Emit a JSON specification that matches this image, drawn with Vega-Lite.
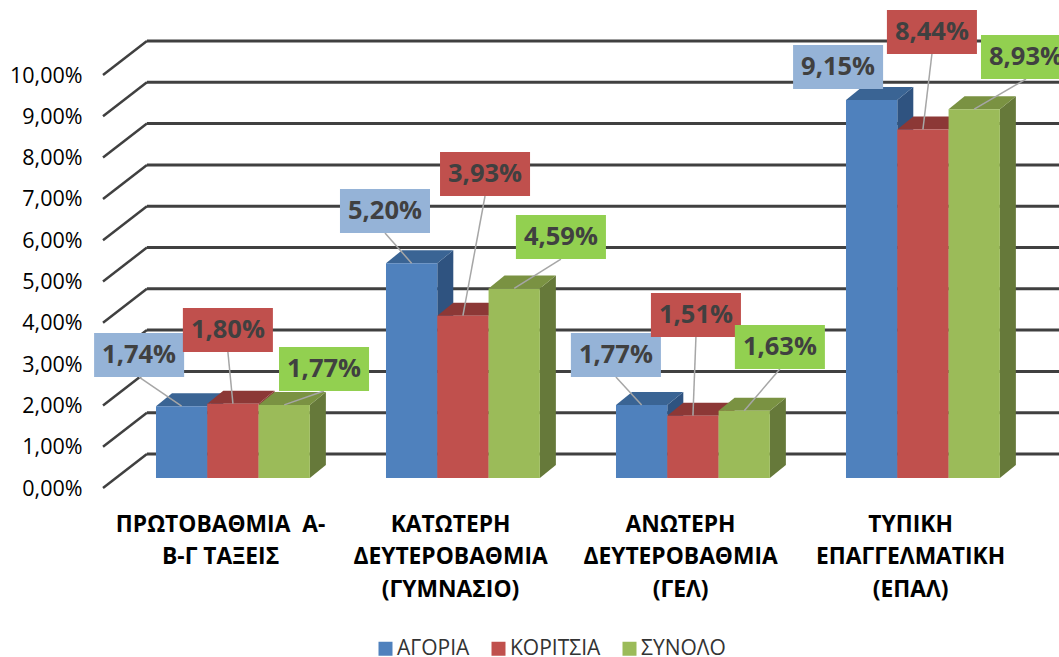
{"$schema":"https://vega.github.io/schema/vega-lite/v6.json","width":956,"height":488,"autosize":{"type":"none"},"padding":{"left":103,"top":0,"right":0,"bottom":169},"background":"white","config":{"view":{"stroke":null},"font":"Open Sans"},
"data":{"values":[
{"category":"ΠΡΩΤΟΒΑΘΜΙΑ Α-Β-Γ ΤΑΞΕΙΣ","series":"ΑΓΟΡΙΑ","value":1.74},{"category":"ΠΡΩΤΟΒΑΘΜΙΑ Α-Β-Γ ΤΑΞΕΙΣ","series":"ΚΟΡΙΤΣΙΑ","value":1.80},{"category":"ΠΡΩΤΟΒΑΘΜΙΑ Α-Β-Γ ΤΑΞΕΙΣ","series":"ΣΥΝΟΛΟ","value":1.77},
{"category":"ΚΑΤΩΤΕΡΗ ΔΕΥΤΕΡΟΒΑΘΜΙΑ (ΓΥΜΝΑΣΙΟ)","series":"ΑΓΟΡΙΑ","value":5.20},{"category":"ΚΑΤΩΤΕΡΗ ΔΕΥΤΕΡΟΒΑΘΜΙΑ (ΓΥΜΝΑΣΙΟ)","series":"ΚΟΡΙΤΣΙΑ","value":3.93},{"category":"ΚΑΤΩΤΕΡΗ ΔΕΥΤΕΡΟΒΑΘΜΙΑ (ΓΥΜΝΑΣΙΟ)","series":"ΣΥΝΟΛΟ","value":4.59},
{"category":"ΑΝΩΤΕΡΗ ΔΕΥΤΕΡΟΒΑΘΜΙΑ (ΓΕΛ)","series":"ΑΓΟΡΙΑ","value":1.77},{"category":"ΑΝΩΤΕΡΗ ΔΕΥΤΕΡΟΒΑΘΜΙΑ (ΓΕΛ)","series":"ΚΟΡΙΤΣΙΑ","value":1.51},{"category":"ΑΝΩΤΕΡΗ ΔΕΥΤΕΡΟΒΑΘΜΙΑ (ΓΕΛ)","series":"ΣΥΝΟΛΟ","value":1.63},
{"category":"ΤΥΠΙΚΗ ΕΠΑΓΓΕΛΜΑΤΙΚΗ (ΕΠΑΛ)","series":"ΑΓΟΡΙΑ","value":9.15},{"category":"ΤΥΠΙΚΗ ΕΠΑΓΓΕΛΜΑΤΙΚΗ (ΕΠΑΛ)","series":"ΚΟΡΙΤΣΙΑ","value":8.44},{"category":"ΤΥΠΙΚΗ ΕΠΑΓΓΕΛΜΑΤΙΚΗ (ΕΠΑΛ)","series":"ΣΥΝΟΛΟ","value":8.93}
]},
"transform":[
{"calculate":"indexof(['ΠΡΩΤΟΒΑΘΜΙΑ Α-Β-Γ ΤΑΞΕΙΣ','ΚΑΤΩΤΕΡΗ ΔΕΥΤΕΡΟΒΑΘΜΙΑ (ΓΥΜΝΑΣΙΟ)','ΑΝΩΤΕΡΗ ΔΕΥΤΕΡΟΒΑΘΜΙΑ (ΓΕΛ)','ΤΥΠΙΚΗ ΕΠΑΓΓΕΛΜΑΤΙΚΗ (ΕΠΑΛ)'],datum.category)","as":"g"},
{"calculate":"indexof(['ΑΓΟΡΙΑ','ΚΟΡΙΤΣΙΑ','ΣΥΝΟΛΟ'],datum.series)","as":"s"},
{"calculate":"datum.g*3+datum.s","as":"i"},
{"calculate":"datum.g+0.2304+datum.s*0.223","as":"x0"},
{"calculate":"datum.x0+0.223","as":"x1"},
{"calculate":"datum.x0+0.1115","as":"xc"},
{"calculate":"0.242","as":"base"},
{"calculate":"datum.value+0.242","as":"top"},
{"calculate":"[0.157,0.543,0.961,1.226,1.661,1.991,2.230,2.578,2.943,3.196,3.604,4.013][datum.i]","as":"lx"},
{"calculate":"[3.22,3.826,2.881,6.707,7.603,6.077,3.22,4.189,3.414,10.194,11.041,10.436][datum.i]","as":"ly"},
{"calculate":"replace(format(datum.value,'.2f'),'.',',')+'%'","as":"label"}
],
"resolve":{"scale":{"color":"independent"},"axis":{"x":"independent","y":"independent"}},
"layer":[
{"data":{"values":[{"t":0},{"t":1},{"t":2},{"t":3},{"t":4},{"t":5},{"t":6},{"t":7},{"t":8},{"t":9},{"t":10}]},"transform":[{"calculate":"datum.t+0.823","as":"b"},{"calculate":"0.191","as":"bx"},{"calculate":"0","as":"fx"}],"mark":{"type":"rule","stroke":"#404040","strokeWidth":2.5},
"encoding":{"x":{"field":"fx","type":"quantitative","scale":{"domain":[0,4.1565],"nice":false,"zero":false},
"axis":{"title":null,"domain":false,"ticks":false,"grid":false,"values":[0.509,1.509,2.509,3.509],"labelFontSize":22.8,"labelFontWeight":"bold","labelColor":"#000000","labelPadding":25,"labelLineHeight":32.5,"labelLimit":400,"labelOverlap":false,"labelBound":false,"labelFlush":false,"labelAlign":"center","labelBaseline":"top",
"labelExpr":"datum.value<1?['ΠΡΩΤΟΒΑΘΜΙΑ\u00a0\u00a0Α-','Β-Γ ΤΑΞΕΙΣ']:datum.value<2?['ΚΑΤΩΤΕΡΗ','ΔΕΥΤΕΡΟΒΑΘΜΙΑ','(ΓΥΜΝΑΣΙΟ)']:datum.value<3?['ΑΝΩΤΕΡΗ','ΔΕΥΤΕΡΟΒΑΘΜΙΑ','(ΓΕΛ)']:['ΤΥΠΙΚΗ','ΕΠΑΓΓΕΛΜΑΤΙΚΗ','(ΕΠΑΛ)']"}},
"x2":{"field":"bx"},
"y":{"field":"t","type":"quantitative","scale":{"domain":[0,11.816],"nice":false,"zero":false},
"axis":{"title":null,"domain":false,"ticks":false,"grid":false,"values":[0,1,2,3,4,5,6,7,8,9,10],"labelFontSize":21.5,"labelColor":"#000000","labelPadding":21,"labelOffset":1,"labelExpr":"replace(format(datum.value,'.2f'),'.',',')+'%'"}},
"y2":{"field":"b"}}},
{"data":{"values":[{"t":0},{"t":1},{"t":2},{"t":3},{"t":4},{"t":5},{"t":6},{"t":7},{"t":8},{"t":9},{"t":10}]},"transform":[{"calculate":"datum.t+0.823","as":"b"},{"calculate":"0.191","as":"bx"},{"calculate":"4.1565","as":"ex"}],"mark":{"type":"rule","stroke":"#404040","strokeWidth":3},
"encoding":{"x":{"field":"bx","type":"quantitative","scale":{"domain":[0,4.1565],"nice":false,"zero":false},"axis":null},"x2":{"field":"ex"},"y":{"field":"b","type":"quantitative","scale":{"domain":[0,11.816],"nice":false,"zero":false},"axis":null}}},
{"transform":[{"calculate":"datum.x1","as":"xa"},{"calculate":"datum.x1+0.0696","as":"xb"},{"fold":["xa","xb"],"as":["k","xp"]},{"calculate":"datum.k=='xb'?0.315:0","as":"d"},{"calculate":"datum.top+datum.d","as":"yt"},{"calculate":"datum.base+datum.d","as":"yb"}],
"mark":{"type":"area","opacity":1},
"encoding":{"x":{"field":"xp","type":"quantitative","scale":{"domain":[0,4.1565],"nice":false,"zero":false},"axis":null},"y":{"field":"yt","type":"quantitative","scale":{"domain":[0,11.816],"nice":false,"zero":false},"axis":null},"y2":{"field":"yb"},"detail":{"field":"i"},"color":{"field":"series","type":"nominal","legend":null,"scale":{"domain":["ΑΓΟΡΙΑ","ΚΟΡΙΤΣΙΑ","ΣΥΝΟΛΟ"],"range":["#2f5380","#8c3836","#66793a"]}}}},
{"transform":[{"calculate":"datum.top","as":"ya"},{"calculate":"datum.top+0.315","as":"yb"},{"fold":["ya","yb"],"as":["k","yp"]},{"calculate":"datum.k=='yb'?0.0696:0","as":"d"},{"calculate":"datum.x0+datum.d","as":"xl"},{"calculate":"datum.x1+datum.d","as":"xr"}],
"mark":{"type":"area","orient":"horizontal","opacity":1},
"encoding":{"y":{"field":"yp","type":"quantitative","scale":{"domain":[0,11.816],"nice":false,"zero":false},"axis":null},"x":{"field":"xl","type":"quantitative","scale":{"domain":[0,4.1565],"nice":false,"zero":false},"axis":null},"x2":{"field":"xr"},"detail":{"field":"i"},"color":{"field":"series","type":"nominal","legend":null,"scale":{"domain":["ΑΓΟΡΙΑ","ΚΟΡΙΤΣΙΑ","ΣΥΝΟΛΟ"],"range":["#3a6494","#8c3836","#7a9242"]}}}},
{"mark":{"type":"rect"},
"encoding":{"x":{"field":"x0","type":"quantitative","scale":{"domain":[0,4.1565],"nice":false,"zero":false},"axis":null},"x2":{"field":"x1"},"y":{"field":"top","type":"quantitative","scale":{"domain":[0,11.816],"nice":false,"zero":false},"axis":null},"y2":{"field":"base"},
"color":{"field":"series","type":"nominal","scale":{"domain":["ΑΓΟΡΙΑ","ΚΟΡΙΤΣΙΑ","ΣΥΝΟΛΟ"],"range":["#4f81bd","#c0504d","#9bbb59"]},
"legend":{"title":null,"orient":"none","legendX":272,"legendY":638,"direction":"horizontal","columns":3,"symbolType":"square","symbolSize":196,"symbolStrokeWidth":0,"labelFontSize":21,"labelColor":"#333333","labelOffset":1,"labelLimit":300,"columnPadding":18,"padding":0}}}},
{"transform":[{"filter":"datum.i!=9"},{"calculate":"datum.ly-0.5327","as":"lb"}],"mark":{"type":"rule","stroke":"#a6a6a6","strokeWidth":1.5},
"encoding":{"x":{"field":"lx","type":"quantitative","scale":{"domain":[0,4.1565],"nice":false,"zero":false},"axis":null},"x2":{"field":"xc"},"y":{"field":"lb","type":"quantitative","scale":{"domain":[0,11.816],"nice":false,"zero":false},"axis":null},"y2":{"field":"top"}}},
{"transform":[{"calculate":"datum.lx-0.1957","as":"a"},{"calculate":"datum.lx+0.1957","as":"b"},{"calculate":"datum.ly-0.5327","as":"c"},{"calculate":"datum.ly+0.5327","as":"d"}],"mark":{"type":"rect"},
"encoding":{"x":{"field":"a","type":"quantitative","scale":{"domain":[0,4.1565],"nice":false,"zero":false},"axis":null},"x2":{"field":"b"},"y":{"field":"c","type":"quantitative","scale":{"domain":[0,11.816],"nice":false,"zero":false},"axis":null},"y2":{"field":"d"},"color":{"field":"series","type":"nominal","legend":null,"scale":{"domain":["ΑΓΟΡΙΑ","ΚΟΡΙΤΣΙΑ","ΣΥΝΟΛΟ"],"range":["#95b3d7","#c0504d","#92d050"]}}}},
{"mark":{"type":"text","fontSize":25.5,"fontWeight":"bold","color":"#404040","align":"center","baseline":"middle"},
"encoding":{"x":{"field":"lx","type":"quantitative","scale":{"domain":[0,4.1565],"nice":false,"zero":false},"axis":null},"y":{"field":"ly","type":"quantitative","scale":{"domain":[0,11.816],"nice":false,"zero":false},"axis":null},"text":{"field":"label"}}}
]}
